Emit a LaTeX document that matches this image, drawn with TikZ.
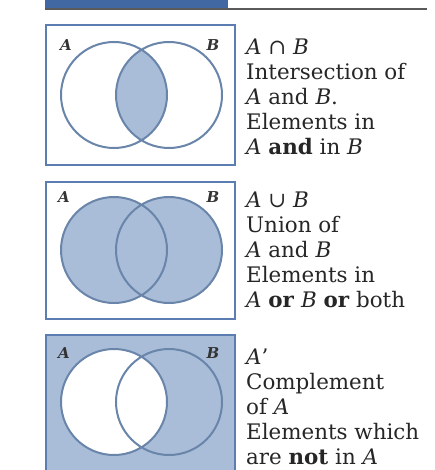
\documentclass[tikz,border=0pt]{standalone}
\usepackage{fontspec}
\setmainfont{DejaVu Serif}
\usetikzlibrary{positioning}
\definecolor{VennBlue}{HTML}{A9BDD9}
\definecolor{VennEdge}{HTML}{6A85AA}
\definecolor{VennFrame}{HTML}{5B7DB1}
\definecolor{VennHead}{HTML}{4268A3}
\definecolor{VennRule}{HTML}{5A5A5A}

\begin{document}
\begin{tikzpicture}[x=1pt,y=-1pt]
    \tikzset{frame/.style={draw=VennFrame,line width=2pt},
      ring/.style={draw=VennEdge,line width=2pt},
      setname/.style={font=\fontsize{15}{15}\selectfont\bfseries\itshape,text=black!80,inner sep=0pt},
      caption/.style={anchor=north west,align=left,inner sep=0pt,text=black!85,
      font=\fontsize{21.4}{25}\selectfont}}
    \path[use as bounding box,clip] (0,0) rectangle (434,470);
    % heading bar
    \fill[VennHead] (45,-2) rectangle (228,9);
    \draw[VennRule,line width=2.2pt] (45,9) -- (427,9);
    % intersection
    \draw[frame,fill=white] (46,25) rectangle (235,165);
    \begin{scope}
      \clip (114,95) circle (53);
      \fill[VennBlue] (169,95) circle (53);
    \end{scope}
    \draw[ring] (114,95) circle (53) (169,95) circle (53);
    \node[setname] (a1) at (66,45) {A};
    \node[setname] (b1) at (213,45) {B};
    \node[caption] (t1) at (246,39) {\textit{A} ∩ \textit{B}\\Intersection of\\\textit{A} and \textit{B}.\\Elements in\\\textit{A} \textbf{and} in \textit{B}};
    % union
    \draw[frame,fill=white] (46,182) rectangle (235,319);
    \fill[VennBlue] (114,250) circle (53) (169,250) circle (53);
    \draw[ring] (114,250) circle (53) (169,250) circle (53);
    \node[setname] (a2) at (64,197) {A};
    \node[setname] (b2) at (213,197) {B};
    \node[caption] (t2) at (246,192) {\textit{A} ∪ \textit{B}\\Union of\\\textit{A} and \textit{B}\\Elements in\\\textit{A} \textbf{or} \textit{B} \textbf{or} both};
    % complement
    \draw[frame,fill=VennBlue] (46,335) rectangle (235,476);
    \fill[white] (114,402) circle (53);
    \draw[ring] (114,402) circle (53) (169,402) circle (53);
    \node[setname] (a3) at (64,353) {A};
    \node[setname] (b3) at (213,353) {B};
    \node[caption] (t3) at (246,349) {\textit{A}'\\Complement\\of \textit{A}\\Elements which\\are \textbf{not} in \textit{A}};
  \end{tikzpicture}
\end{document}
